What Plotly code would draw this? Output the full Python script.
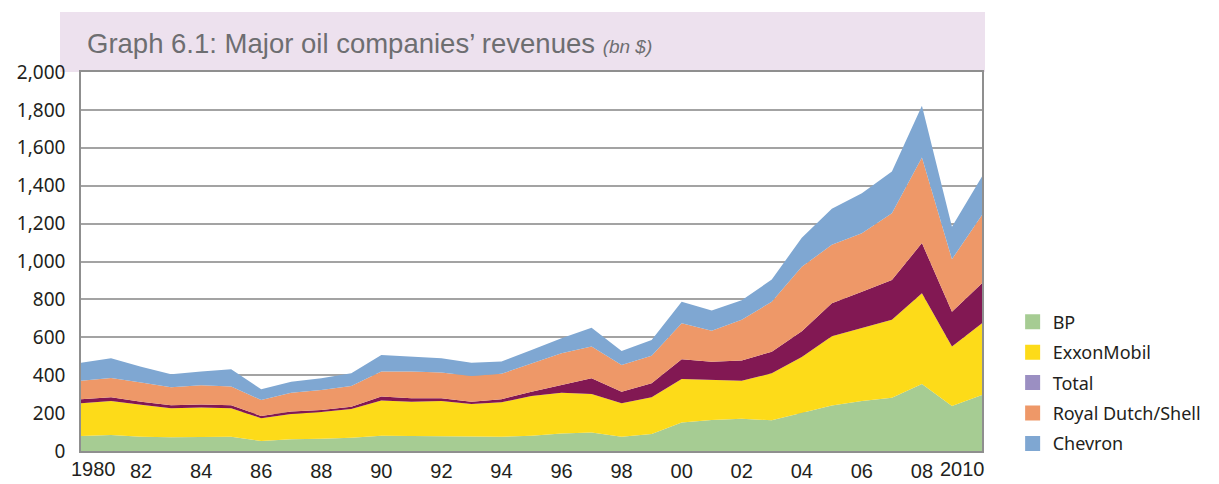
import plotly.graph_objects as go

# revenues, bn $
years = list(range(1980, 2011))
bp = [79, 84, 75, 72, 74, 75, 53, 62, 65, 70, 81, 79, 79, 74, 75, 81,
      93, 97, 75, 90, 150, 164, 170, 162, 199, 240, 264, 281, 354, 238, 296]
exxon = [173, 180, 169, 153, 155, 150, 120, 133, 141, 152, 185, 181, 185, 174, 182, 209,
         215, 204, 177, 193, 230, 211, 201, 248, 297, 365, 384, 411, 479, 313, 378]
total = [21, 19, 16, 16, 16, 16, 12, 13, 10, 12, 21, 18, 14, 12, 16, 23,
         40, 83, 61, 74, 104, 96, 106, 114, 136, 175, 192, 211, 264, 184, 211]
shell = [98, 102, 101, 95, 102, 99, 84, 100, 106, 109, 132, 141, 136, 136, 134, 150,
         168, 167, 141, 145, 190, 164, 215, 264, 340, 308, 309, 352, 452, 277, 361]
chevron = [95, 104, 84, 69, 72, 91, 57, 58, 62, 67, 88, 79, 75, 70, 65, 70,
           79, 100, 74, 84, 114, 107, 103, 117, 153, 190, 211, 220, 273, 172, 202]

names = ["BP", "ExxonMobil", "Total", "Royal Dutch/Shell", "Chevron"]
series = [bp, exxon, total, shell, chevron]
fill_colors = ["#a6cc93", "#fddb19", "#821853", "#ee9868", "#7fa7d2"]
legend_colors = ["#a6cc93", "#fddb19", "#9b8fc2", "#ee9868", "#7fa7d2"]

tick_years = list(range(1980, 2011, 2))
tick_text = ["", "82", "84", "86", "88", "90", "92", "94", "96", "98",
             "00", "02", "04", "06", "08", ""]

narrow = "Liberation Sans Narrow, Arial Narrow, sans-serif"

fig = go.Figure()

for name, vals, col in zip(names, series, fill_colors):
    fig.add_trace(go.Scatter(
        x=years, y=vals, name=name, stackgroup="one", mode="lines",
        line=dict(width=0, color=col), fillcolor=col, showlegend=False,
    ))

# legend entries (legend swatch colours differ from the fill for Total)
for i, (name, col) in enumerate(zip(names, legend_colors)):
    fig.add_trace(go.Scatter(
        x=[None], y=[None], name=name, mode="markers",
        marker=dict(symbol="square", size=15, color=col),
        legendgroup=str(i),
    ))

# title band
fig.add_shape(type="rect", xref="paper", yref="paper",
              x0=-0.0233, x1=1.0033, y0=1.0, y1=1.158,
              fillcolor="#ede1ee", line=dict(width=0), layer="below")

fig.add_annotation(
    xref="paper", yref="paper", x=0.004, y=1.075, xanchor="left", yanchor="middle",
    text="Graph 6.1: Major oil companies\u2019 revenues <i><span style='font-size:19px'>(bn $)</span></i>",
    showarrow=False, font=dict(family=narrow, size=27.5, color="#6d6e71"),
)

# end-year labels sit slightly inside the frame
for yr, shift in [(1980, 12), (2010, -20)]:
    fig.add_annotation(x=yr, y=0, xref="x", yref="paper", yanchor="top", yshift=-5,
                       xshift=shift, text=str(yr), showarrow=False,
                       font=dict(family=narrow, size=20, color="#231f20"))

fig.update_xaxes(
    range=[1980, 2010], tickvals=tick_years, ticktext=tick_text,
    showgrid=False, showline=True, mirror=True, linecolor="#8f8f8f", linewidth=1.5,
    ticks="", ticklabelstandoff=1, automargin=False,
    tickfont=dict(family=narrow, size=20, color="#231f20"),
    zeroline=False,
)
fig.update_yaxes(
    range=[0, 2000], dtick=200, tickformat=",",
    showgrid=True, gridcolor="#a3a3a3", gridwidth=1.5,
    showline=True, mirror=True, linecolor="#8f8f8f", linewidth=1.5,
    ticks="", ticklabelstandoff=10, automargin=False,
    tickfont=dict(family="Noto Sans", size=19, color="#231f20"),
    zeroline=False,
)

# page body adds an 8px offset, margins account for it
fig.update_layout(
    width=1219, height=484,
    margin=dict(l=73, r=245, t=64, b=41),
    plot_bgcolor="white", paper_bgcolor="white",
    legend=dict(x=1.034, y=-0.028, xanchor="left", yanchor="bottom",
                font=dict(family="Noto Sans", size=18, color="#231f20"),
                tracegroupgap=4, itemwidth=30, bgcolor="rgba(0,0,0,0)"),
)

fig.write_html("out.html")
